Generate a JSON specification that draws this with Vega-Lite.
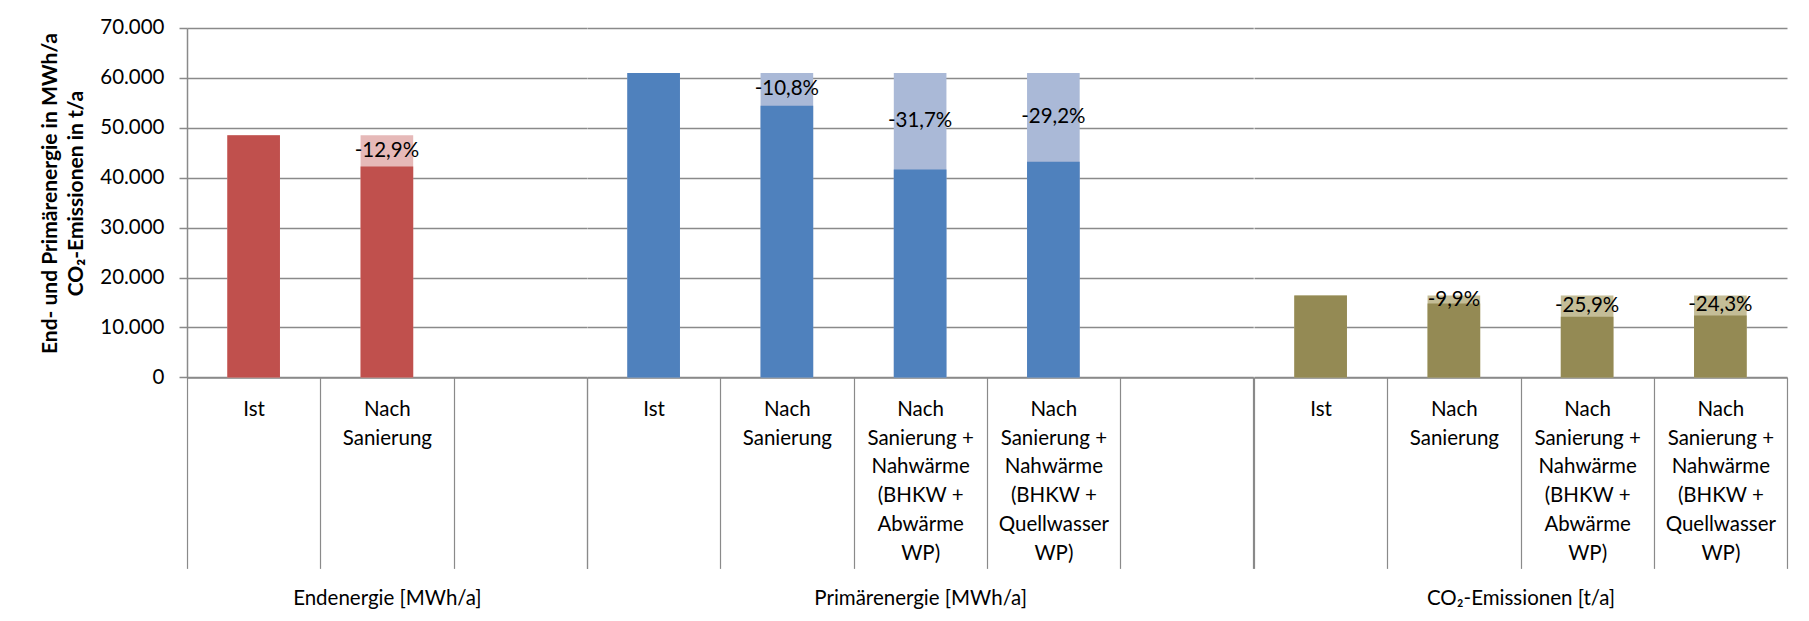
{
  "$schema": "https://vega.github.io/schema/vega-lite/v6.json",
  "background": "white",
  "padding": {"left": 39, "top": 18, "right": 23, "bottom": 0},
  "datasets": {
    "bars": [
      {"grp": "E", "kat": "Ist", "ist": 48500, "wert": 48500, "label": null},
      {"grp": "E", "kat": "Nach|Sanierung", "ist": 48500, "wert": 42240, "label": "-12,9%"},
      {"grp": "P", "kat": "Ist", "ist": 61000, "wert": 61000, "label": null},
      {"grp": "P", "kat": "Nach|Sanierung", "ist": 61000, "wert": 54410, "label": "-10,8%"},
      {"grp": "P", "kat": "Nach|Sanierung +|Nahwärme|(BHKW +|Abwärme|WP)", "ist": 61000, "wert": 41660, "label": "-31,7%"},
      {"grp": "P", "kat": "Nach|Sanierung +|Nahwärme|(BHKW +|Quellwasser|WP)", "ist": 61000, "wert": 43190, "label": "-29,2%"},
      {"grp": "C", "kat": "Ist", "ist": 16400, "wert": 16400, "label": null},
      {"grp": "C", "kat": "Nach|Sanierung", "ist": 16400, "wert": 14780, "label": "-9,9%"},
      {"grp": "C", "kat": "Nach|Sanierung +|Nahwärme|(BHKW +|Abwärme|WP)", "ist": 16400, "wert": 12150, "label": "-25,9%"},
      {"grp": "C", "kat": "Nach|Sanierung +|Nahwärme|(BHKW +|Quellwasser|WP)", "ist": 16400, "wert": 12410, "label": "-24,3%"}
    ]
  },
  "spacing": 0,
  "bounds": "flush",
  "resolve": {"scale": {"x": "independent", "y": "independent"}},
  "hconcat": [
    {
      "width": 399.75,
      "height": 349.4,
      "data": {"name": "bars"},
      "transform": [{"filter": "datum.grp === 'E'"}],
      "layer": [
        {
          "mark": {"type": "bar", "width": {"band": 0.395}, "color": "#E6B9B8"},
          "encoding": {
            "x": {
              "field": "kat", "type": "nominal",
              "scale": {"domain": ["Ist", "Nach|Sanierung", " "], "paddingInner": 0, "paddingOuter": 0},
              "axis": {
                "title": "Endenergie [MWh/a]",
                "labelExpr": "split(datum.label, '|')",
                "encode": {"ticks": {"update": {"y2": {"signal": "(datum.index == -1 || datum.index == 1) ? 235 : 191"}}}}
              }
            },
            "y": {
              "field": "ist", "type": "quantitative",
              "scale": {"domain": [0, 70000], "nice": false},
              "axis": {
                "title": ["End- und Primärenergie in MWh/a", "CO₂-Emissionen in t/a"],
                "titleFontWeight": "bold",
                "titleFontSize": 21,
                "titleLineHeight": 26.5,
                "titleAngle": 270,
                "titleAlign": "center",
                "titleBaseline": "top",
                "titleX": -148,
                "titleY": 165,
                "values": [0, 10000, 20000, 30000, 40000, 50000, 60000, 70000],
                "labelExpr": "replace(format(datum.value, ','), ',', '.')"
              }
            }
          }
        },
        {
          "mark": {"type": "bar", "width": {"band": 0.395}, "color": "#C0504D"},
          "encoding": {
            "x": {"field": "kat", "type": "nominal"},
            "y": {"field": "wert", "type": "quantitative"}
          }
        },
        {
          "transform": [{"filter": "datum.label != null"}, {"fold": ["ist", "wert"], "as": ["k", "v"]}],
          "mark": {"type": "text", "baseline": "middle", "align": "center", "color": "#000000"},
          "encoding": {
            "x": {"field": "kat", "type": "nominal"},
            "y": {"aggregate": "mean", "field": "v", "type": "quantitative"},
            "text": {"field": "label"}
          }
        }
      ]
    },
    {
      "width": 666.25,
      "height": 349.4,
      "data": {"name": "bars"},
      "transform": [{"filter": "datum.grp === 'P'"}],
      "layer": [
        {
          "mark": {"type": "bar", "width": {"band": 0.395}, "color": "#AAB9D7"},
          "encoding": {
            "x": {
              "field": "kat", "type": "nominal",
              "scale": {"domain": ["Ist", "Nach|Sanierung", "Nach|Sanierung +|Nahwärme|(BHKW +|Abwärme|WP)", "Nach|Sanierung +|Nahwärme|(BHKW +|Quellwasser|WP)", " "], "paddingInner": 0, "paddingOuter": 0},
              "axis": {
                "title": "Primärenergie [MWh/a]",
                "labelExpr": "split(datum.label, '|')",
                "encode": {"ticks": {"update": {"y2": {"signal": "(datum.index == -1 || datum.index == 1) ? 235 : 191"}}}}
              }
            },
            "y": {
              "field": "ist", "type": "quantitative",
              "scale": {"domain": [0, 70000], "nice": false},
              "axis": {"title": null, "domain": false, "ticks": false, "labels": false, "grid": true, "values": [0, 10000, 20000, 30000, 40000, 50000, 60000, 70000]}
            }
          }
        },
        {
          "mark": {"type": "bar", "width": {"band": 0.395}, "color": "#4F81BD"},
          "encoding": {
            "x": {"field": "kat", "type": "nominal"},
            "y": {"field": "wert", "type": "quantitative"}
          }
        },
        {
          "transform": [{"filter": "datum.label != null"}, {"fold": ["ist", "wert"], "as": ["k", "v"]}],
          "mark": {"type": "text", "baseline": "middle", "align": "center", "color": "#000000"},
          "encoding": {
            "x": {"field": "kat", "type": "nominal"},
            "y": {"aggregate": "mean", "field": "v", "type": "quantitative"},
            "text": {"field": "label"}
          }
        }
      ]
    },
    {
      "width": 533,
      "height": 349.4,
      "data": {"name": "bars"},
      "transform": [{"filter": "datum.grp === 'C'"}],
      "layer": [
        {
          "mark": {"type": "bar", "width": {"band": 0.395}, "color": "#C4BD97"},
          "encoding": {
            "x": {
              "field": "kat", "type": "nominal",
              "scale": {"domain": ["Ist", "Nach|Sanierung", "Nach|Sanierung +|Nahwärme|(BHKW +|Abwärme|WP)", "Nach|Sanierung +|Nahwärme|(BHKW +|Quellwasser|WP)"], "paddingInner": 0, "paddingOuter": 0},
              "axis": {
                "title": "CO₂-Emissionen [t/a]",
                "labelExpr": "split(datum.label, '|')",
                "encode": {"ticks": {"update": {"y2": {"signal": "(datum.index == -1 || datum.index == 1) ? 235 : 191"}}}}
              }
            },
            "y": {
              "field": "ist", "type": "quantitative",
              "scale": {"domain": [0, 70000], "nice": false},
              "axis": {"title": null, "domain": false, "ticks": false, "labels": false, "grid": true, "values": [0, 10000, 20000, 30000, 40000, 50000, 60000, 70000]}
            }
          }
        },
        {
          "mark": {"type": "bar", "width": {"band": 0.395}, "color": "#948A54"},
          "encoding": {
            "x": {"field": "kat", "type": "nominal"},
            "y": {"field": "wert", "type": "quantitative"}
          }
        },
        {
          "transform": [{"filter": "datum.label != null"}, {"fold": ["ist", "wert"], "as": ["k", "v"]}],
          "mark": {"type": "text", "baseline": "middle", "align": "center", "color": "#000000"},
          "encoding": {
            "x": {"field": "kat", "type": "nominal"},
            "y": {"aggregate": "mean", "field": "v", "type": "quantitative"},
            "text": {"field": "label"}
          }
        }
      ]
    }
  ],
  "config": {
    "view": {"stroke": null},
    "font": "Lato",
    "text": {"font": "Lato", "fontSize": 20.5},
    "axisX": {
      "labelAngle": 0,
      "labelAlign": "center",
      "labelBaseline": "top",
      "labelPadding": -169,
      "labelLineHeight": 28.8,
      "labelFont": "Lato",
      "labelFontSize": 20.5,
      "labelColor": "#000000",
      "labelLimit": 300,
      "tickBand": "extent",
      "tickSize": 191,
      "tickColor": "#8A8A8A",
      "tickWidth": 1.2,
      "domainColor": "#8A8A8A",
      "domainWidth": 1.5,
      "titleFont": "Lato",
      "titleFontSize": 20.5,
      "titleFontWeight": "normal",
      "titleColor": "#000000",
      "titleY": 221,
      "titleBaseline": "middle",
      "grid": false
    },
    "axisY": {
      "gridColor": "#8A8A8A",
      "gridWidth": 1.5,
      "tickColor": "#8A8A8A",
      "tickWidth": 1.5,
      "tickSize": 8,
      "domainColor": "#8A8A8A",
      "domainWidth": 1.5,
      "labelFont": "Lato",
      "labelFontSize": 20.5,
      "labelColor": "#000000",
      "labelPadding": 15,
      "titleFont": "Lato",
      "titleFontSize": 20.5,
      "titleColor": "#000000"
    }
  }
}
